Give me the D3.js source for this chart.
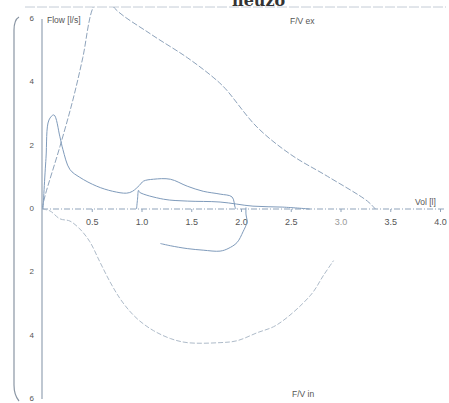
<!DOCTYPE html>
<html>
<head>
<meta charset="utf-8">
<script src="https://cdn.jsdelivr.net/npm/d3@7"></script>
<style>
  body { margin: 0; background: #fff; }
  svg { display: block; }
  text { font-family: "Liberation Sans", Arial, sans-serif; fill: #555; }
</style>
</head>
<body>
<script>
// axis ticks
var volTicks = [0.5, 1.0, 1.5, 2.0, 2.5, 3.0, 3.5, 4.0];
var flowTicks = [6, 4, 2, 0, -2, -4, -6];

// predicted expiratory curve [vol, flow]
var predEx = [[0,0],[0.03,0.41],[0.18,1.97],[0.31,3.44],[0.41,4.78],[0.51,6.34],[0.62,6.9],
              [0.73,6.34],[1.09,5.53],[1.46,4.78],[1.72,4.16],[1.84,3.81],[2.16,2.59],
              [2.5,1.72],[2.87,1.03],[3.27,0.25],[3.35,0]];

// measured expiratory, first loop
var measEx1 = [[0.01,0],[0.04,1.6],[0.07,2.81],[0.12,2.97],[0.18,2.28],[0.21,1.88],[0.28,1.25],
               [0.38,1.0],[0.55,0.72],[0.71,0.56],[0.85,0.5],[0.91,0.56],[0.98,0.75],[1.02,0.88],
               [1.12,0.94],[1.29,0.94],[1.46,0.72],[1.62,0.56],[1.79,0.47],[1.91,0.38],[1.94,0.06],[1.95,0]];

// measured expiratory, second loop
var measEx2 = [[0.95,0],[0.96,0.31],[0.97,0.59],[0.98,0.53],[1.22,0.31],[1.46,0.25],[1.79,0.22],
               [2.12,0.09],[2.42,0.06],[2.69,0]];

// measured inspiratory, second loop
var measIn2 = [[2.05,0.05],[2.05,-0.16],[2.06,-0.41],[2.02,-0.72],[1.96,-1.06],[1.87,-1.25],
               [1.79,-1.33],[1.62,-1.3],[1.46,-1.25],[1.29,-1.16],[1.19,-1.09]];

// first inspiratory curve
var measIn1 = [[0,0],[0.08,-0.06],[0.18,-0.31],[0.28,-0.38],[0.38,-0.63],[0.48,-1.03],[0.58,-1.66],
               [0.68,-2.28],[0.78,-2.81],[0.88,-3.22],[0.98,-3.53],[1.12,-3.84],[1.29,-4.09],
               [1.46,-4.22],[1.79,-4.22],[1.96,-4.16],[2.16,-3.91],[2.36,-3.66],[2.7,-2.72],
               [2.83,-2.09],[2.93,-1.63]];

var width = 449, height = 403;

var svg = d3.select("body").append("svg")
  .attr("width", width)
  .attr("height", height);

var x = d3.scaleLinear().domain([0, 4]).range([42, 440]);
var y = d3.scaleLinear().domain([-6, 6]).range([399, 19]);

svg.append("clipPath").attr("id", "plot")
  .append("rect").attr("x", 42).attr("y", 7).attr("width", 407).attr("height", 396);

// cut-off title at the top
svg.append("text")
  .attr("x", 232).attr("y", 6)
  .style("font-family", "'DejaVu Serif', serif")
  .style("font-weight", "bold")
  .style("font-size", "16px")
  .style("fill", "#333")
  .text("neuzo");

// top border line
svg.append("line")
  .attr("x1", 25).attr("x2", 446).attr("y1", 7).attr("y2", 7)
  .attr("stroke", "#c4ccd6").attr("stroke-width", 1).attr("stroke-dasharray", "10,2");

// left bracket
var br = d3.path();
br.moveTo(19, 17);
br.quadraticCurveTo(14, 20, 14, 30);
br.lineTo(14, 385);
br.quadraticCurveTo(14, 395, 19, 401);
svg.append("path").attr("d", br.toString())
  .attr("fill", "none").attr("stroke", "#8a96a4").attr("stroke-width", 1.2);

// y axis line
svg.append("line")
  .attr("x1", x(0)).attr("x2", x(0)).attr("y1", y(6)).attr("y2", y(-6))
  .attr("stroke", "#8a9aac").attr("stroke-width", 1.1);

// x axis (dash-dot)
svg.append("line")
  .attr("x1", x(0)).attr("x2", 446).attr("y1", y(0)).attr("y2", y(0))
  .attr("stroke", "#8fa3ba").attr("stroke-width", 1).attr("stroke-dasharray", "6,2,1,2");

var xAxis = d3.axisBottom(x).tickValues(volTicks).tickSize(3)
  .tickFormat(function(d){ return d.toFixed(1); });
var gx = svg.append("g").attr("transform", "translate(0," + y(0) + ")").call(xAxis);
gx.select(".domain").remove();
gx.selectAll(".tick line").attr("stroke", "#8fa3ba");
gx.selectAll(".tick text")
  .attr("dy", "1.1em")
  .style("font-size", "9px")
  .style("fill", function(d){ return d == 3.0 ? "#999" : "#555"; })
  .style("font-family", "'Liberation Sans', Arial, sans-serif");

var yAxis = d3.axisLeft(y).tickValues(flowTicks).tickSize(0)
  .tickFormat(function(d){ return Math.abs(d); });
var gy = svg.append("g").attr("transform", "translate(" + (x(0) - 5) + ",0)").call(yAxis);
gy.select(".domain").remove();
gy.selectAll(".tick text")
  .attr("dy", "0.2em")
  .style("font-size", "8px")
  .style("font-family", "'Liberation Sans', Arial, sans-serif")
  .style("fill", "#555");

// labels
svg.append("text").attr("x", 47).attr("y", 23).style("font-size", "8.5px").text("Flow [l/s]");
svg.append("text").attr("x", 290).attr("y", 24).style("font-size", "8.5px").text("F/V ex");
svg.append("text").attr("x", 415).attr("y", 205).style("font-size", "8.5px").text("Vol [l]");
svg.append("text").attr("x", 292).attr("y", 397).style("font-size", "8.5px").text("F/V in");

var line = d3.line()
  .x(function(d){ return x(d[0]); })
  .y(function(d){ return y(d[1]); })
  .curve(d3.curveCatmullRom.alpha(0.5));

var plot = svg.append("g").attr("clip-path", "url(#plot)");

plot.append("path").datum(predEx)
  .attr("d", line).attr("fill", "none")
  .attr("stroke", "#8ea3bb").attr("stroke-width", 1).attr("stroke-dasharray", "6,2");

plot.append("path").datum(measIn1)
  .attr("d", line).attr("fill", "none")
  .attr("stroke", "#aebbc9").attr("stroke-width", 1).attr("stroke-dasharray", "5,2");

plot.append("path").datum(measEx1)
  .attr("d", line).attr("fill", "none")
  .attr("stroke", "#7f9bbb").attr("stroke-width", 1);

plot.append("path").datum(measEx2)
  .attr("d", line).attr("fill", "none")
  .attr("stroke", "#7f9bbb").attr("stroke-width", 1);

plot.append("path").datum(measIn2)
  .attr("d", line).attr("fill", "none")
  .attr("stroke", "#7f9bbb").attr("stroke-width", 1);
</script>
</body>
</html>
